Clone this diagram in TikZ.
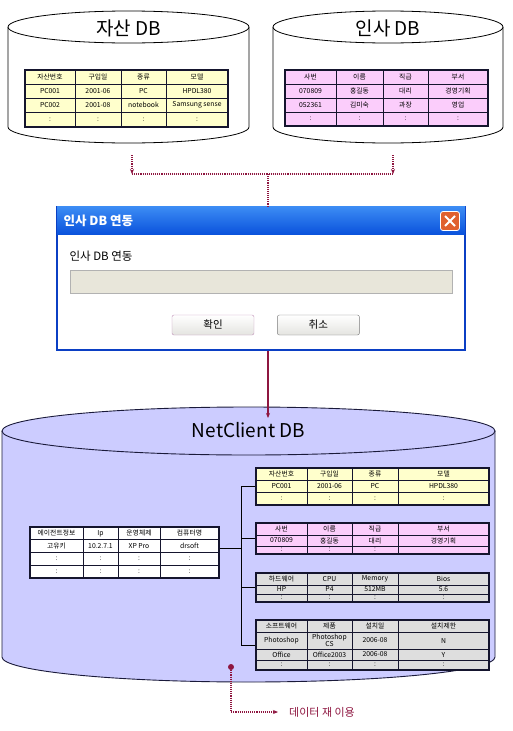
\documentclass[tikz,border=0pt]{standalone}
\usepackage{fontspec}
\setmainfont{Noto Sans CJK KR}
\usepackage{tikz}
\usetikzlibrary{arrows.meta, positioning, calc}
\definecolor{tblline}{HTML}{15152E}
\definecolor{rowyellow}{HTML}{FFFFCC}
\definecolor{rowpink}{HTML}{FBCDFB}
\definecolor{rowgray}{HTML}{DEDEDE}
\definecolor{netfill}{HTML}{CCCCFF}
\definecolor{cylline}{HTML}{1A1A3A}
\definecolor{linkred}{HTML}{8E1640}
\definecolor{barblue}{HTML}{0A52DC}
\definecolor{barlight}{HTML}{3C8CF4}
\definecolor{frameblue}{HTML}{0B3FC4}
\definecolor{closered}{HTML}{E0602E}
\definecolor{progressfill}{HTML}{E8E6DA}
\definecolor{btnline}{HTML}{7A7A7A}
\definecolor{okline}{HTML}{C090B8}
\definecolor{btnbottom}{HTML}{E4E4E0}

\begin{document}
\begin{tikzpicture}[x=1pt, y=-1pt,
  dbcyl/.style={draw=black, line width=0.8, fill=white},
  netcyl/.style={draw=cylline, line width=0.9, fill=netfill},
  dbtitle/.style={font=\fontsize{19}{21}\selectfont},
  tbl/.style={draw=tblline, line width=1.6, inner sep=0pt},
  gridline/.style={draw=tblline, line width=0.6},
  cell/.style={font=\fontsize{6.8}{7.6}\selectfont, inner sep=0pt, align=center},
  dotlink/.style={draw=linkred, line width=1.1, densely dotted},
  solidlink/.style={draw=linkred, line width=1.1, -{Stealth[length=5pt, width=4pt]}},
  tip/.style={-{Stealth[length=5pt, width=4pt]}},
  tree/.style={draw=black, line width=0.6},
  button/.style={draw=btnline, rounded corners=2pt, top color=white, bottom color=btnbottom,
                 minimum width=82, minimum height=20, font=\fontsize{10.5}{12}\selectfont},
]
  \useasboundingbox (0,0) rectangle (512,731);

  % Asset DB cylinder
  \draw[dbcyl] (8,27) -- (8,127) arc[start angle=180, end angle=360, x radius=120.5pt, y radius=16pt] -- (249,27);
  \draw[dbcyl] (128.5,27) ellipse[x radius=120.5pt, y radius=16pt];
  \node[dbtitle] (assetTitle) at (128.5,28) {자산 DB};

  % HR DB cylinder
  \draw[dbcyl] (273,27) -- (273,127) arc[start angle=180, end angle=360, x radius=115pt, y radius=16pt] -- (503,27);
  \draw[dbcyl] (388,27) ellipse[x radius=115pt, y radius=16pt];
  \node[dbtitle] (hrTitle) at (388,28) {인사 DB};

  % Asset table
  \node[tbl, fill=rowyellow, minimum width=203, minimum height=57] (assetTbl) at (126.5,98.5) {};
  \foreach \x in {75,121,166} \draw[gridline] (\x,70) -- (\x,127);
  \foreach \y in {84,98,112} \draw[gridline] (25,\y) -- (228,\y);
  \foreach \y/\a/\b/\c/\d [count=\r] in {77/자산번호/구입일/종류/모델, 91/PC001/2001-06/PC/HPDL380,
      105/PC002/2001-08/notebook/Samsung sense, 119.5/:/:/:/:} {
    \node[cell] (asset-\r-a) at (50,\y) {\a};
    \node[cell] (asset-\r-b) at (98,\y) {\b};
    \node[cell] (asset-\r-c) at (143.5,\y) {\c};
    \node[cell] (asset-\r-d) at (197,\y) {\d};
  }

  % HR table
  \node[tbl, fill=rowpink, minimum width=203, minimum height=56] (hrTbl) at (386.5,98) {};
  \foreach \x in {336,383,428} \draw[gridline] (\x,70) -- (\x,126);
  \foreach \y in {84,98,112} \draw[gridline] (285,\y) -- (488,\y);
  \foreach \y/\a/\b/\c/\d [count=\r] in {77/사번/이름/직급/부서, 91/070809/홍길동/대리/경영기획,
      105/052361/김미숙/과장/영업, 119/:/:/:/:} {
    \node[cell] (hr-\r-a) at (310.5,\y) {\a};
    \node[cell] (hr-\r-b) at (359.5,\y) {\b};
    \node[cell] (hr-\r-c) at (405.5,\y) {\c};
    \node[cell] (hr-\r-d) at (458,\y) {\d};
  }

  % Sync dialog
  \node[draw=frameblue, line width=1.5, fill=white, minimum width=408, minimum height=143] (dialog) at (261,278.5) {};
  \node[top color=barlight, bottom color=barblue, minimum width=408, minimum height=28, inner sep=0pt,
        anchor=north] (dlgBar) at (dialog.north) {};
  \node[text=white, anchor=west, font=\bfseries\fontsize{12.5}{14}\selectfont] (dlgTitle) at (60,221) {인사 DB 연동};
  \node[draw=white, line width=0.8, fill=closered, rounded corners=2.5pt, minimum size=19] (dlgClose) at (450,221) {};
  \draw[white, line width=2] (445,216) -- (455,226);
  \draw[white, line width=2] (445,226) -- (455,216);
  \node[anchor=west, font=\fontsize{11.5}{13}\selectfont] (dlgLabel) at (66,256) {인사 DB 연동};
  \node[draw=gray!60, fill=progressfill, minimum width=382, minimum height=23] (dlgProgress) at (261,281.5) {};
  \node[button, draw=okline] (okBtn) at (213,325) {확인};
  \node[button, right=23pt of okBtn] (cancelBtn) {취소};

  % HR/asset -> dialog
  \coordinate (assetOut) at (132,155);
  \coordinate (hrOut) at (393,155);
  \coordinate (merge) at (268,174);
  \draw[dotlink, tip] (assetOut) -- (assetOut |- merge);
  \draw[dotlink, tip] (hrOut) -- (hrOut |- merge);
  \draw[dotlink] (assetOut |- merge) -- (hrOut |- merge);
  \draw[dotlink] (merge) -- (merge |- dialog.north);

  % NetClient DB cylinder
  \draw[netcyl] (2,431) -- (2,657) arc[start angle=180, end angle=360, x radius=246.5pt, y radius=25pt] -- (495,431);
  \draw[netcyl] (248.5,431) ellipse[x radius=246.5pt, y radius=24pt];
  \node[dbtitle] (netTitle) at (248.5,430) {NetClient DB};

  % Dialog -> NetClient DB
  \coordinate (netIn) at (268,418);
  \draw[solidlink] (merge |- dialog.south) -- (netIn);

  % Agent table
  \node[tbl, fill=white, minimum width=189, minimum height=51] (agentTbl) at (124.5,552.5) {};
  \foreach \x in {83,118,160} \draw[gridline] (\x,527) -- (\x,578);
  \foreach \y in {539.75,552.5,565.25} \draw[gridline] (30,\y) -- (219,\y);
  \foreach \y/\a/\b/\c/\d [count=\r] in {533.4/에이전트정보/Ip/운영체제/컴퓨터명, 546.1/고유키/10.2.7.1/XP Pro/drsoft,
      558.9/:/:/:/:, 571.6/:/:/:/:} {
    \node[cell] (agent-\r-a) at (56.5,\y) {\a};
    \node[cell] (agent-\r-b) at (100.5,\y) {\b};
    \node[cell] (agent-\r-c) at (139,\y) {\c};
    \node[cell] (agent-\r-d) at (189.5,\y) {\d};
  }

  % Copied asset table
  \node[tbl, fill=rowyellow, minimum width=233, minimum height=37] (assetCopy) at (372.5,486.5) {};
  \foreach \x in {307,352,398} \draw[gridline] (\x,468) -- (\x,505);
  \foreach \y in {480.3,492.7} \draw[gridline] (256,\y) -- (489,\y);
  \foreach \y/\a/\b/\c/\d [count=\r] in {474.2/자산번호/구입일/종류/모델, 486.5/PC001/2001-06/PC/HPDL380, 498.8/:/:/:/:} {
    \node[cell] (assetCopy-\r-a) at (281.5,\y) {\a};
    \node[cell] (assetCopy-\r-b) at (329.5,\y) {\b};
    \node[cell] (assetCopy-\r-c) at (375,\y) {\c};
    \node[cell] (assetCopy-\r-d) at (443.5,\y) {\d};
  }

  % Copied HR table
  \node[tbl, fill=rowpink, minimum width=233, minimum height=31] (hrCopy) at (372.5,538.5) {};
  \foreach \x in {307,352,398} \draw[gridline] (\x,523) -- (\x,554);
  \foreach \y in {535,546} \draw[gridline] (256,\y) -- (489,\y);
  \foreach \y/\a/\b/\c/\d [count=\r] in {529/사번/이름/직급/부서, 540.5/070809/홍길동/대리/경영기획, 550/:/:/:/{}} {
    \node[cell] (hrCopy-\r-a) at (281.5,\y) {\a};
    \node[cell] (hrCopy-\r-b) at (329.5,\y) {\b};
    \node[cell] (hrCopy-\r-c) at (375,\y) {\c};
    \node[cell] (hrCopy-\r-d) at (443.5,\y) {\d};
  }

  % Hardware table
  \node[tbl, fill=rowgray, minimum width=233, minimum height=29] (hwTbl) at (372.5,587.5) {};
  \foreach \x in {307,352,398} \draw[gridline] (\x,573) -- (\x,602);
  \foreach \y in {585,594} \draw[gridline] (256,\y) -- (489,\y);
  \foreach \y/\a/\b/\c/\d [count=\r] in {579/하드웨어/CPU/Memory/Bios, 589.5/HP/P4/512MB/5.6, 598/:/:/:/:} {
    \node[cell] (hw-\r-a) at (281.5,\y) {\a};
    \node[cell] (hw-\r-b) at (329.5,\y) {\b};
    \node[cell] (hw-\r-c) at (375,\y) {\c};
    \node[cell] (hw-\r-d) at (443.5,\y) {\d};
  }

  % Software table
  \node[tbl, fill=rowgray, minimum width=233, minimum height=50] (swTbl) at (372.5,645) {};
  \foreach \x in {307,352,398} \draw[gridline] (\x,620) -- (\x,670);
  \foreach \y in {632,649,660} \draw[gridline] (256,\y) -- (489,\y);
  \foreach \y/\a/\b/\c/\d [count=\r] in {626/소프트웨어/제품/설치일/설치제한, 640.5/Photoshop/Photoshop\\CS/2006-08/N,
      654.5/Office/Office2003/2006-08/Y, 665/:/:/:/:} {
    \node[cell] (sw-\r-a) at (281.5,\y) {\a};
    \node[cell] (sw-\r-b) at (329.5,\y) {\b};
    \node[cell] (sw-\r-c) at (375,\y) {\c};
    \node[cell] (sw-\r-d) at (443.5,\y) {\d};
  }

  % Agent -> tables
  \coordinate (bus) at (241,548);
  \draw[tree] (agentTbl.east |- bus) -- (bus);
  \draw[tree] (bus |- assetCopy.west) -- (bus |- swTbl.west);
  \foreach \t in {assetCopy,hrCopy,hwTbl,swTbl}
    \draw[tree] (bus |- \t.west) -- (\t.west);

  % Data reuse
  \node[circle, fill=linkred, inner sep=0pt, minimum size=6] (reuseDot) at (231,667) {};
  \node[anchor=west, inner sep=0pt, text=linkred, font=\fontsize{11}{12}\selectfont] (reuseText) at (289,712) {데이터 재 이용};
  \draw[dotlink, tip] (reuseDot) |- ([xshift=-11pt]reuseText.west);
\end{tikzpicture}
\end{document}
